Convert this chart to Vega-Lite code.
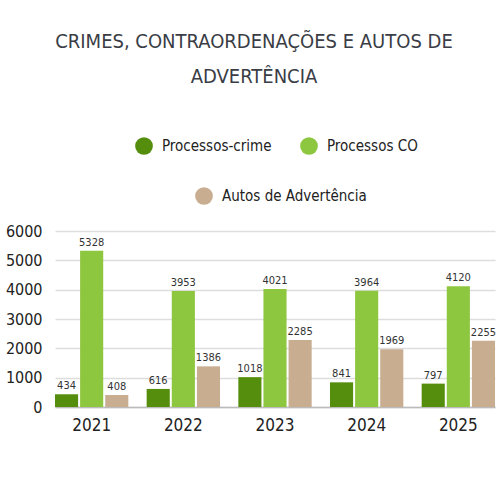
{
  "$schema": "https://vega.github.io/schema/vega-lite/v6.json",
  "autosize": "none",
  "width": 440,
  "height": 176,
  "padding": {"left": 55, "top": 231, "right": 5, "bottom": 93},
  "background": "white",
  "title": {
    "text": ["CRIMES, CONTRAORDENAÇÕES E AUTOS DE", "ADVERTÊNCIA"],
    "font": "DejaVu Sans Condensed",
    "fontSize": 20,
    "fontWeight": "normal",
    "color": "#3a3d45",
    "anchor": "middle",
    "dx": -21,
    "lineHeight": 35,
    "offset": 50
  },
  "config": {
    "font": "DejaVu Sans Condensed",
    "view": {"stroke": null},
    "legend": {
      "orient": "none",
      "title": null,
      "symbolType": "circle",
      "symbolSize": 314,
      "symbolStrokeWidth": 0,
      "labelFontSize": 15,
      "labelColor": "#222",
      "labelOffset": 9,
      "padding": 0
    }
  },
  "data": {
    "values": [
      {"year": "2021", "series": "Processos-crime", "value": 434},
      {"year": "2021", "series": "Processos CO", "value": 5328},
      {"year": "2021", "series": "Autos de Advertência", "value": 408},
      {"year": "2022", "series": "Processos-crime", "value": 616},
      {"year": "2022", "series": "Processos CO", "value": 3953},
      {"year": "2022", "series": "Autos de Advertência", "value": 1386},
      {"year": "2023", "series": "Processos-crime", "value": 1018},
      {"year": "2023", "series": "Processos CO", "value": 4021},
      {"year": "2023", "series": "Autos de Advertência", "value": 2285},
      {"year": "2024", "series": "Processos-crime", "value": 841},
      {"year": "2024", "series": "Processos CO", "value": 3964},
      {"year": "2024", "series": "Autos de Advertência", "value": 1969},
      {"year": "2025", "series": "Processos-crime", "value": 797},
      {"year": "2025", "series": "Processos CO", "value": 4120},
      {"year": "2025", "series": "Autos de Advertência", "value": 2255}
    ]
  },
  "encoding": {
    "x": {
      "field": "year", "type": "nominal",
      "scale": {"paddingInner": 0.2, "paddingOuter": 0},
      "axis": {"title": null, "labelAngle": 0, "labelFontSize": 17, "labelColor": "#222", "ticks": false, "labelPadding": 10, "domainColor": "#bbbbbb", "domainWidth": 1.5, "grid": false}
    },
    "xOffset": {
      "field": "series", "type": "nominal",
      "scale": {"domain": ["Processos-crime", "Processos CO", "Autos de Advertência"], "paddingInner": 0.08}
    },
    "y": {
      "field": "value", "type": "quantitative",
      "scale": {"domain": [0, 6000]},
      "axis": {"title": null, "values": [0, 1000, 2000, 3000, 4000, 5000, 6000], "format": "d", "labelFontSize": 16, "labelColor": "#222", "ticks": false, "domain": false, "labelPadding": 13, "gridColor": "#dddddd", "gridWidth": 1.5}
    }
  },
  "layer": [
    {
      "transform": [{"filter": "datum.series == 'Processos-crime'"}],
      "mark": {"type": "bar"},
      "encoding": {
        "color": {"field": "series", "type": "nominal", "scale": {"domain": ["Processos-crime"], "range": ["#558e0c"]}, "legend": {"legendX": 80, "legendY": -94}}
      }
    },
    {
      "transform": [{"filter": "datum.series == 'Processos CO'"}],
      "mark": {"type": "bar"},
      "encoding": {
        "color": {"field": "series", "type": "nominal", "scale": {"domain": ["Processos CO"], "range": ["#8dc63f"]}, "legend": {"legendX": 245, "legendY": -94}}
      }
    },
    {
      "transform": [{"filter": "datum.series == 'Autos de Advertência'"}],
      "mark": {"type": "bar"},
      "encoding": {
        "color": {"field": "series", "type": "nominal", "scale": {"domain": ["Autos de Advertência"], "range": ["#c8ad91"]}, "legend": {"legendX": 140, "legendY": -44}}
      }
    },
    {
      "mark": {"type": "text", "baseline": "bottom", "dy": -3, "fontSize": 11, "color": "#333333"},
      "encoding": {"text": {"field": "value", "type": "quantitative"}}
    }
  ],
  "resolve": {"scale": {"color": "independent"}}
}
